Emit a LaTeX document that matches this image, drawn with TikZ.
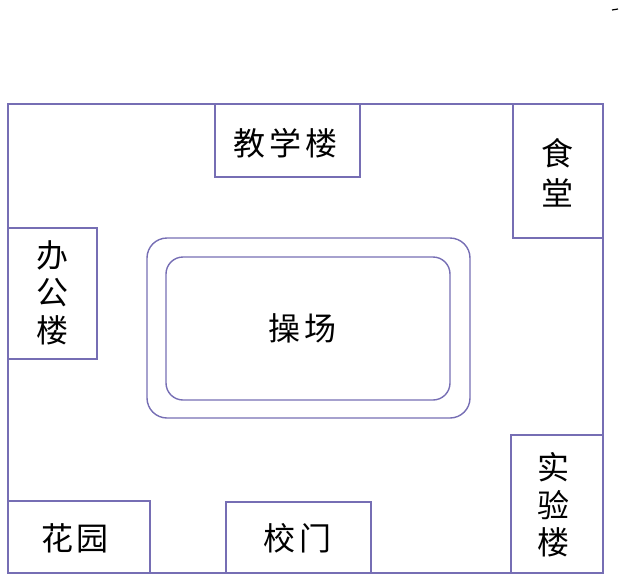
\documentclass[tikz,border=0pt]{standalone}
\usepackage{fontspec}
\newfontfamily\cjk{Noto Sans CJK SC}
\usepackage{xcolor}
\definecolor{plan}{RGB}{118,110,180}
\tikzset{
  wall/.style={draw=plan, line width=1.4pt},
  bldg/.style={wall, rectangle, inner sep=0pt, align=center,
    font=\cjk\fontsize{32}{37.5}\selectfont},
  track/.style={wall, rounded corners=#1},
}

\begin{document}
\begin{tikzpicture}[x=1pt, y=-1pt]
    \useasboundingbox (0,0) rectangle (619,581);

    % campus boundary
    \coordinate (NW) at (8,104);
    \coordinate (SE) at (603,573);
    \draw[wall] (NW) rectangle (SE);

    % buildings along the boundary
    \node[bldg, minimum width=145, minimum height=73] (jiaoxue) at (287.5,140.5) {};
    \node[bldg, minimum width=90, minimum height=134] (shitang) at (558,171) {};
    \node[bldg, minimum width=89, minimum height=131] (bangong) at (52.5,293.5) {};
    \node[bldg, minimum width=142, minimum height=72] (huayuan) at (79,537) {};
    \node[bldg, minimum width=145, minimum height=71] (xiaomen) at (298.5,537.5) {};
    \node[bldg, minimum width=92, minimum height=138] (shiyan) at (557,504) {};

    % names of the buildings
    \node[bldg, draw=none] (jiaoxuet) at (285.5,143) {教\hspace{4pt}学\hspace{4pt}楼};
    \node[bldg, draw=none, font=\cjk\fontsize{32}{40}\selectfont] (shitangt) at (557.5,173) {食\\堂};
    \node[bldg, draw=none] (bangongt) at (52,292.5) {办\\公\\楼};
    \node[bldg, draw=none] (huayuant) at (75,538) {花\hspace{4pt}园};
    \node[bldg, draw=none] (xiaoment) at (297,538) {校\hspace{4pt}门};
    \node[bldg, draw=none] (shiyant) at (553.5,505) {实\\验\\楼};

    % playground with running track
    \coordinate (TrO1) at (147,238);
    \coordinate (TrO2) at (470,418);
    \coordinate (TrI1) at (166,257);
    \coordinate (TrI2) at (450,400);
    \draw[track=20pt] (TrO1) rectangle (TrO2);
    \draw[track=17pt] (TrI1) rectangle (TrI2);
    \node[bldg, draw=none] (caochang) at (302,328) {操\hspace{4pt}场};

    % stray mark
    \coordinate (M1) at (612,10);
    \coordinate (M2) at (618,9);
    \draw[line width=1.2pt] (M1) -- (M2);
\end{tikzpicture}
\end{document}
